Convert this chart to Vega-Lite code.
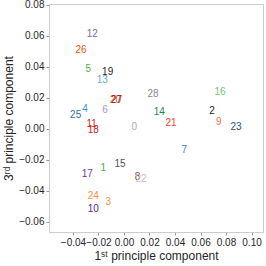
{
  "$schema": "https://vega.github.io/schema/vega-lite/v6.json",
  "width": 214,
  "height": 228,
  "autosize": "none",
  "padding": {"left": 49, "top": 4, "right": 3, "bottom": 34},
  "background": "white",
  "config": {
    "view": {"stroke": "#cccccc", "strokeWidth": 1},
    "font": "Liberation Sans",
    "axis": {
      "grid": false,
      "domainColor": "#cccccc",
      "tickColor": "#999999",
      "tickSize": 3,
      "labelFontSize": 10,
      "labelColor": "#262626",
      "labelFont": "Liberation Sans",
      "titleFont": "Liberation Sans",
      "titleFontSize": 12,
      "titleFontWeight": "normal",
      "titleColor": "#262626"
    }
  },
  "data": {
    "values": [
      {"label": "0", "pc1": 0.0081, "pc3": 0.0011},
      {"label": "1", "pc1": -0.0162, "pc3": -0.0254},
      {"label": "2", "pc1": 0.0690, "pc3": 0.0118},
      {"label": "3", "pc1": -0.0123, "pc3": -0.0469},
      {"label": "4", "pc1": -0.0306, "pc3": 0.0127},
      {"label": "5", "pc1": -0.0280, "pc3": 0.0385},
      {"label": "6", "pc1": -0.0149, "pc3": 0.0123},
      {"label": "7", "pc1": 0.0473, "pc3": -0.0135},
      {"label": "8", "pc1": 0.0106, "pc3": -0.0308},
      {"label": "9", "pc1": 0.0743, "pc3": 0.0045},
      {"label": "10", "pc1": -0.0241, "pc3": -0.0516},
      {"label": "11", "pc1": -0.0253, "pc3": 0.0029},
      {"label": "12", "pc1": -0.0249, "pc3": 0.0611},
      {"label": "13", "pc1": -0.0170, "pc3": 0.0316},
      {"label": "14", "pc1": 0.0277, "pc3": 0.0110},
      {"label": "15", "pc1": -0.0031, "pc3": -0.0226},
      {"label": "16", "pc1": 0.0753, "pc3": 0.0237},
      {"label": "17", "pc1": -0.0288, "pc3": -0.0292},
      {"label": "18", "pc1": -0.0241, "pc3": -0.0006},
      {"label": "19", "pc1": -0.0128, "pc3": 0.0366},
      {"label": "20", "pc1": -0.0066, "pc3": 0.0187},
      {"label": "21", "pc1": 0.0369, "pc3": 0.0037},
      {"label": "22", "pc1": 0.0133, "pc3": -0.0326},
      {"label": "23", "pc1": 0.0878, "pc3": 0.0015},
      {"label": "24", "pc1": -0.0241, "pc3": -0.0430},
      {"label": "25", "pc1": -0.0379, "pc3": 0.0090},
      {"label": "26", "pc1": -0.0337, "pc3": 0.0510},
      {"label": "27", "pc1": -0.0058, "pc3": 0.0189},
      {"label": "28", "pc1": 0.0227, "pc3": 0.0223}
    ]
  },
  "mark": {"type": "text", "align": "center", "baseline": "middle", "fontSize": 10, "font": "Liberation Sans"},
  "encoding": {
    "x": {
      "field": "pc1", "type": "quantitative",
      "scale": {"domain": [-0.0588, 0.109], "nice": false, "zero": false},
      "axis": {"values": [-0.04, -0.02, 0, 0.02, 0.04, 0.06, 0.08, 0.1], "format": ".2f", "title": "1ˢᵗ principle component", "labelPadding": 2, "titlePadding": 3}
    },
    "y": {
      "field": "pc3", "type": "quantitative",
      "scale": {"domain": [-0.0665, 0.0806], "nice": false, "zero": false},
      "axis": {"values": [-0.06, -0.04, -0.02, 0, 0.02, 0.04, 0.06, 0.08], "format": ".2f", "title": "3ʳᵈ principle component", "labelPadding": 2, "titlePadding": 3}
    },
    "text": {"field": "label"},
    "color": {
      "field": "label", "type": "nominal", "legend": null,
      "scale": {
        "domain": ["0","1","2","3","4","5","6","7","8","9","10","11","12","13","14","15","16","17","18","19","20","21","22","23","24","25","26","27","28"],
        "range": ["#aaaaaa","#41ab5d","#1a1a1a","#fd8d3c","#3a8fd9","#4daf4a","#9e9ac8","#3f7fc7","#8c4a1c","#fb6a4a","#54278f","#e31a1c","#756bb1","#6baed6","#238b45","#525252","#74c476","#6a3d9a","#cb181d","#252525","#e6550d","#ef3b2c","#bcbddc","#1f4e8c","#fd8d3c","#2b6cb0","#e6550d","#a50f15","#888888"]
      }
    }
  }
}
